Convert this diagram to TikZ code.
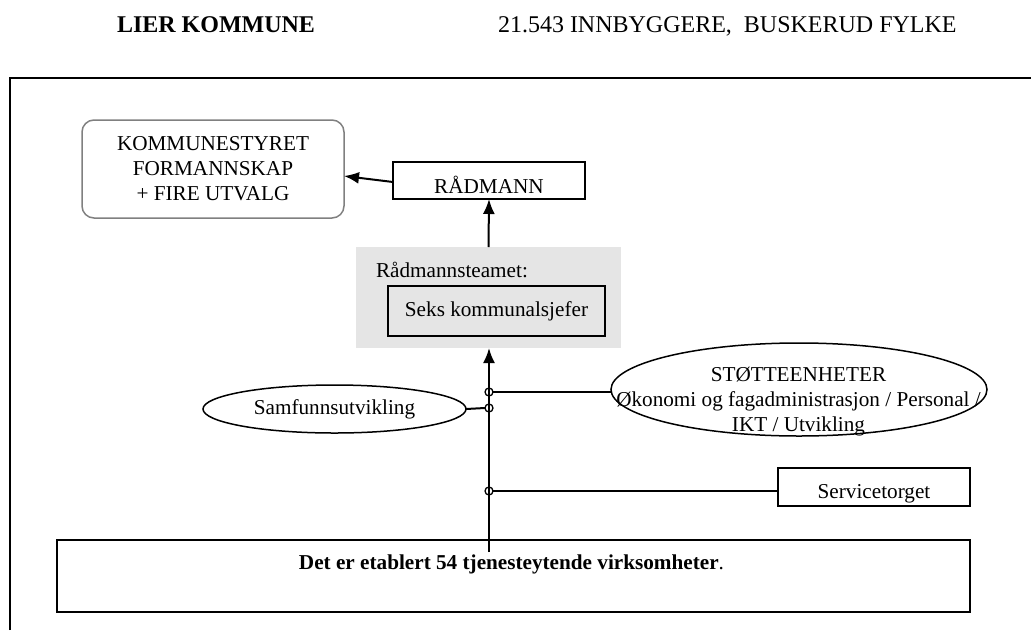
\documentclass[tikz,border=0pt]{standalone}
\usepackage{fontspec}
\setmainfont{Liberation Serif}
\usetikzlibrary{arrows.meta,shapes.geometric}
\definecolor{teamgray}{RGB}{229,229,229}
\definecolor{councilgray}{RGB}{128,128,128}
\begin{document}
\begin{tikzpicture}[x=1pt,y=-1pt,
  every node/.style={inner sep=0pt,outer sep=0pt},
  bodytext/.style={font=\fontsize{21.2}{25}\selectfont},
  headtext/.style={font=\fontsize{24}{28}\selectfont},
  headbold/.style={font=\fontsize{24}{28}\selectfont\bfseries},
  boxed/.style={draw,line width=1.5pt,bodytext},
  oval/.style={ellipse,draw,line width=1.5pt,bodytext},
  link/.style={line width=2pt},
  arr/.style={link,-{Latex[length=15pt,width=12pt]}},
  tap/.style={circle,draw,line width=1.3pt,minimum size=8pt}]
\useasboundingbox (0,0) rectangle (1031,630);

% heading
\node[anchor=base west,headbold] (title) at (117,32) {LIER KOMMUNE};
\node[anchor=base west,headtext] (facts) at (498,32) {21.543 INNBYGGERE,\ \ BUSKERUD FYLKE};

% outer frame (open towards right and bottom)
\draw[line width=2pt] (10,630) -- (10,78) -- (1031,78);

% political level and chief executive
\node[boxed,draw=councilgray,rounded corners=12pt,minimum width=262pt,minimum height=98pt,align=center]
  (ks) at (213,169) {KOMMUNESTYRET\\FORMANNSKAP\\+ FIRE UTVALG};
\node[boxed,minimum width=192pt,minimum height=37pt,text height=26pt,text depth=0pt]
  (rm) at (489,180.5) {RÅDMANN};

% management team
\node[fill=teamgray,minimum width=265pt,minimum height=101pt] (team) at (488.5,297.5) {};
\node[anchor=base west,bodytext] (teamlbl) at (376,277) {Rådmannsteamet:};
\node[boxed,minimum width=217pt,minimum height=50pt] (seks) at (496.5,311) {Seks kommunalsjefer};

% staff units
\node[oval,minimum width=376pt,minimum height=93pt] (stotte) at (799,389.5) {};
\node[bodytext,align=center] (stottetxt) at (798.5,402)
  {STØTTEENHETER\\Økonomi og fagadministrasjon / Personal /\\IKT / Utvikling};
\node[oval,minimum width=263pt,minimum height=48pt] (samf) at (334.5,409) {Samfunnsutvikling};
\node[boxed,minimum width=192pt,minimum height=38pt,text height=22pt,text depth=0pt]
  (serv) at (874,487) {Servicetorget};

% service units
\node[draw,line width=1.5pt,minimum width=913pt,minimum height=72pt] (virk) at (513.5,576) {};
\node[bodytext] (virktxt) at (511.5,564) {\textbf{Det er etablert 54 tjenesteytende virksomheter}.};

% connectors
\coordinate (trunkbot) at (489,552);
\draw[arr] (trunkbot) -- (trunkbot |- team.south);
\draw[arr] (team.north) -- (rm.south);
\draw[arr] ([yshift=-1.5pt]rm.west) -- ([yshift=-7pt]ks.east);

\node[tap] (t1) at (489,392) {};
\node[tap] (t2) at (489,408) {};
\node[tap] (t3) at (489,491) {};
\draw[link] (t1) -- (t1 -| stotte.west);
\draw[link] (samf.east) -- (t2.west);
\draw[link] (t3) -- (t3 -| serv.west);
\end{tikzpicture}
\end{document}
